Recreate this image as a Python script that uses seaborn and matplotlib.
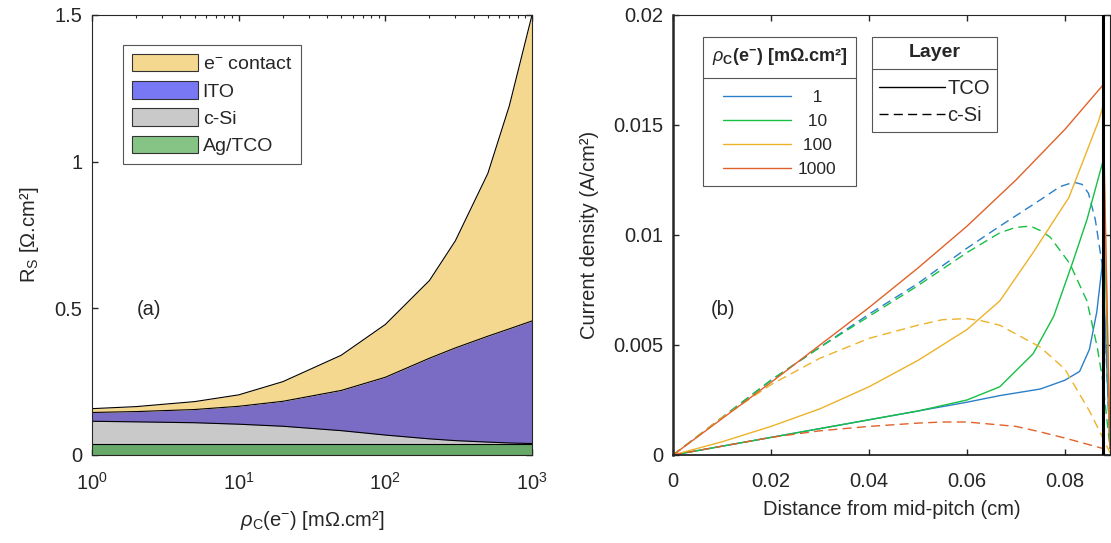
import numpy as np
import pandas as pd
import matplotlib
matplotlib.use("Agg")
import matplotlib.pyplot as plt
from matplotlib.patches import Patch
from matplotlib.lines import Line2D
from matplotlib.transforms import IdentityTransform
import seaborn as sns

# ---------------- data: panel (a) ----------------
rho_c = [1, 2, 5, 10, 20, 50, 100, 200, 300, 500, 700, 1000]
rs_agtco = [0.038, 0.038, 0.038, 0.038, 0.038, 0.038, 0.038, 0.038, 0.038, 0.038, 0.038, 0.038]
rs_csi = [0.077, 0.075, 0.072, 0.067, 0.060, 0.045, 0.030, 0.017, 0.011, 0.006, 0.003, 0.001]
rs_ito = [0.030, 0.035, 0.045, 0.061, 0.085, 0.137, 0.197, 0.275, 0.316, 0.361, 0.389, 0.418]
rs_contact = [0.013, 0.017, 0.027, 0.039, 0.067, 0.120, 0.180, 0.265, 0.365, 0.555, 0.760, 1.043]
layer_names = ["Ag/TCO", "c-Si", "ITO", "e$^{-}$ contact"]

# ---------------- data: panel (b) ----------------
x_tco_1 = [0, 0.01, 0.02, 0.03, 0.04, 0.05, 0.06, 0.0667, 0.075, 0.08, 0.083, 0.085, 0.0865, 0.0877, 0.0892]
j_tco_1 = [0, 0.0004, 0.0008, 0.0012, 0.0016, 0.0020, 0.0024, 0.0027, 0.0030, 0.0034, 0.0038, 0.0048, 0.0065, 0.0088, 0.0003]
x_tco_10 = [0, 0.01, 0.02, 0.03, 0.04, 0.05, 0.06, 0.0667, 0.0735, 0.0777, 0.0818, 0.0845, 0.0877, 0.0892]
j_tco_10 = [0, 0.0004, 0.0008, 0.0012, 0.0016, 0.0020, 0.0025, 0.0031, 0.0046, 0.0063, 0.0089, 0.0107, 0.0133, 0.0003]
x_tco_100 = [0, 0.01, 0.02, 0.03, 0.04, 0.05, 0.06, 0.0667, 0.0735, 0.0808, 0.0869, 0.0877, 0.0892]
j_tco_100 = [0, 0.0006, 0.0013, 0.0021, 0.0031, 0.0043, 0.0057, 0.0070, 0.0092, 0.0117, 0.0152, 0.0158, 0.0003]
x_tco_1000 = [0, 0.01, 0.02, 0.03, 0.04, 0.05, 0.06, 0.07, 0.08, 0.0877, 0.0892]
j_tco_1000 = [0, 0.00165, 0.0033, 0.0050, 0.0067, 0.0085, 0.0104, 0.0125, 0.0148, 0.0168, 0.0003]

x_si_1 = [0, 0.01, 0.02, 0.03, 0.04, 0.05, 0.06, 0.0667, 0.075, 0.079, 0.0818, 0.0835, 0.0848, 0.0862, 0.0877, 0.0892]
j_si_1 = [0, 0.0017, 0.0034, 0.0049, 0.0064, 0.0078, 0.0094, 0.0104, 0.0116, 0.0122, 0.0124, 0.0123, 0.0119, 0.0107, 0.0085, 0.0003]
x_si_10 = [0, 0.01, 0.02, 0.03, 0.04, 0.05, 0.06, 0.0667, 0.070, 0.073, 0.075, 0.077, 0.081, 0.0845, 0.0866, 0.0877, 0.0892]
j_si_10 = [0, 0.0017, 0.0034, 0.0049, 0.0063, 0.0077, 0.0092, 0.0101, 0.01035, 0.0104, 0.0102, 0.0099, 0.0087, 0.0070, 0.0049, 0.0034, 0.0003]
x_si_100 = [0, 0.01, 0.02, 0.03, 0.04, 0.05, 0.055, 0.06, 0.063, 0.0667, 0.075, 0.08, 0.085, 0.0877, 0.0892]
j_si_100 = [0, 0.0017, 0.0032, 0.0044, 0.0053, 0.0059, 0.00615, 0.0062, 0.0061, 0.0059, 0.0049, 0.0039, 0.0020, 0.0008, 0.0001]
x_si_1000 = [0, 0.01, 0.02, 0.03, 0.04, 0.05, 0.055, 0.06, 0.07, 0.075, 0.08, 0.0877]
j_si_1000 = [0, 0.0004, 0.0008, 0.0011, 0.0013, 0.00145, 0.0015, 0.0015, 0.0013, 0.00105, 0.00077, 0.0003]

rho_levels = ["1", "10", "100", "1000"]
finger_edge = 0.0877
x_max = 0.0892

# ---------------- style ----------------
sns.set_style("ticks")
plt.rcParams.update({
    "font.family": ["Liberation Sans", "DejaVu Sans"],
    "mathtext.fontset": "custom",
    "mathtext.rm": "Liberation Sans",
    "mathtext.it": "Liberation Sans:italic",
    "mathtext.bf": "Liberation Sans:bold",
    "axes.edgecolor": "#262626",
    "xtick.color": "#262626",
    "ytick.color": "#262626",
    "text.color": "#262626",
    "axes.labelcolor": "#262626",
})

fs_tick = 14.5
fs_leg = 12.5

fig = plt.figure(figsize=(11.11, 5.43), dpi=100)
ax1 = fig.add_axes([92 / 1111, 1 - 455 / 543, 440 / 1111, 440 / 543])
ax2 = fig.add_axes([673 / 1111, 1 - 455 / 543, 437 / 1111, 440 / 543])

# ---------------- panel (a) ----------------
stack = np.vstack([rs_agtco, rs_csi, rs_ito, rs_contact])
cum = np.cumsum(stack, axis=0)
fill_cols = ["#68a868", "#c9c9c9", "#7a6cc4", "#f5d88f"]
legend_cols = ["#86c486", "#c9c9c9", "#7878f5", "#f5d88f"]
lower = np.zeros(len(rho_c))
for i in range(4):
    ax1.fill_between(rho_c, lower, cum[i], color=fill_cols[i], lw=0, zorder=1)
    lower = cum[i]
bdf = pd.DataFrame({"rho": np.tile(rho_c, 4), "rs": cum.ravel(),
                    "layer": np.repeat(layer_names, len(rho_c))})
sns.lineplot(data=bdf, x="rho", y="rs", units="layer", estimator=None, color="black",
             lw=0.8, ax=ax1, legend=False, zorder=2)
ax1.set_xscale("log")
ax1.set_xlim(1, 1000)
ax1.set_ylim(0, 1.5)
ax1.set_yticks([0, 0.5, 1, 1.5])
ax1.set_yticklabels(["0", "0.5", "1", "1.5"])
ax1.set_xlabel(r"$\rho_\mathrm{C}$(e$^{-}$) [m$\Omega$.cm²]", fontsize=fs_tick, labelpad=11)
ax1.set_ylabel(r"R$_\mathrm{S}$ [$\Omega$.cm²]", fontsize=fs_tick, labelpad=10)
ax1.text(0.102, 0.33, "(a)", transform=ax1.transAxes, fontsize=fs_tick, va="center")
handles_a = [Patch(facecolor=legend_cols[i], edgecolor="#333333", lw=0.8) for i in [3, 2, 1, 0]]
labels_a = ["e$^{-}$ contact", "ITO", "c-Si", "Ag/TCO"]
leg_a = ax1.legend(handles_a, labels_a, loc="upper left", bbox_to_anchor=(0.0705, 0.932),
                   fontsize=14, frameon=True, fancybox=False, framealpha=1,
                   edgecolor="#555555", borderaxespad=0, handlelength=3.4, handleheight=1.03,
                   labelspacing=0.4, handletextpad=0.25, borderpad=0.45)
leg_a.get_frame().set_linewidth(0.8)

# ---------------- panel (b) ----------------
rows = []
series = [
    ("1", "TCO", x_tco_1, j_tco_1), ("10", "TCO", x_tco_10, j_tco_10),
    ("100", "TCO", x_tco_100, j_tco_100), ("1000", "TCO", x_tco_1000, j_tco_1000),
    ("1", "c-Si", x_si_1, j_si_1), ("10", "c-Si", x_si_10, j_si_10),
    ("100", "c-Si", x_si_100, j_si_100), ("1000", "c-Si", x_si_1000, j_si_1000),
]
for rho, layer, xs, js in series:
    for xv, jv in zip(xs, js):
        rows.append({"x": xv, "j": jv, "rho": rho, "layer": layer})
df = pd.DataFrame(rows)
palette = {"1": "#2a80c8", "10": "#16c044", "100": "#eeb22a", "1000": "#e0622a"}
dash_pat = (6.5, 3.8)
sns.lineplot(data=df, x="x", y="j", hue="rho", style="layer", hue_order=rho_levels,
             palette=palette, dashes={"TCO": "", "c-Si": dash_pat},
             estimator=None, sort=False, lw=1.0, ax=ax2, legend=False)
ax2.axvline(finger_edge, color="black", lw=2.2, zorder=5)
ax2.set_xlim(0, x_max)
ax2.set_ylim(0, 0.02)
ax2.set_xticks([0, 0.02, 0.04, 0.06, 0.08])
ax2.set_xticklabels(["0", "0.02", "0.04", "0.06", "0.08"])
ax2.set_yticks([0, 0.005, 0.01, 0.015, 0.02])
ax2.set_yticklabels(["0", "0.005", "0.01", "0.015", "0.02"])
ax2.set_xlabel("Distance from mid-pitch (cm)", fontsize=fs_tick, labelpad=7)
ax2.set_ylabel("Current density (A/cm²)", fontsize=fs_tick, labelpad=10)
ax2.text(0.087, 0.33, "(b)", transform=ax2.transAxes, fontsize=fs_tick, va="center")
ax2.spines["left"].set_linewidth(1.8)
ax2.spines["bottom"].set_linewidth(1.3)

h1 = [Line2D([], [], color=palette[r], lw=1.0) for r in rho_levels]
lab1 = ["   1", "  10", " 100", "1000"]
leg1 = ax2.legend(h1, lab1, loc="upper left", bbox_to_anchor=(0.0686, 0.95),
                  title=r"$\rho_\mathbf{C}$(e$^{\mathbf{-}}$) [m$\mathbf{\Omega}$.cm²]",
                  title_fontproperties={"weight": "bold", "size": 13},
                  fontsize=fs_leg, frameon=True, fancybox=False, framealpha=1,
                  edgecolor="#555555", borderaxespad=0, handlelength=3.9,
                  labelspacing=0.5, handletextpad=0.4, borderpad=0.5)
leg1.get_frame().set_linewidth(0.8)
leg1._legend_box.sep = 17
ax2.add_artist(leg1)
h2 = [Line2D([], [], color="black", lw=1.0),
      Line2D([], [], color="black", lw=1.0, dashes=dash_pat)]
leg2 = ax2.legend(h2, ["TCO", "c-Si"], loc="upper left", bbox_to_anchor=(0.455, 0.95),
                  title="Layer", title_fontproperties={"weight": "bold", "size": 14},
                  fontsize=14.5, frameon=True, fancybox=False, framealpha=1,
                  edgecolor="#555555", borderaxespad=0, handlelength=3.3,
                  labelspacing=0.4, handletextpad=0.1, borderpad=0.35)
leg2.get_frame().set_linewidth(0.8)
leg2._legend_box.sep = 13

for ax in (ax1, ax2):
    ax.tick_params(which="both", direction="in", top=True, right=True, labelsize=fs_tick)
    ax.tick_params(which="major", length=4, width=1)
    ax.tick_params(which="minor", length=2, width=0.8)
    ax.tick_params(axis="x", which="both", pad=12)
    ax.tick_params(axis="y", which="both", pad=7)
ax2.tick_params(which="minor", bottom=False, top=False, left=False, right=False)

# separator line between legend title and entries
fig.canvas.draw()
r = fig.canvas.get_renderer()
for leg in (leg1, leg2):
    fb = leg.get_frame().get_window_extent(r)
    tb = leg.get_title().get_window_extent(r)
    t0 = leg.get_texts()[0].get_window_extent(r)
    y = (tb.y0 + t0.y1) / 2 + 1
    fig.add_artist(Line2D([fb.x0, fb.x1], [y, y], transform=IdentityTransform(),
                          color="#555555", lw=0.8))

fig.savefig("out.png", dpi=100)
